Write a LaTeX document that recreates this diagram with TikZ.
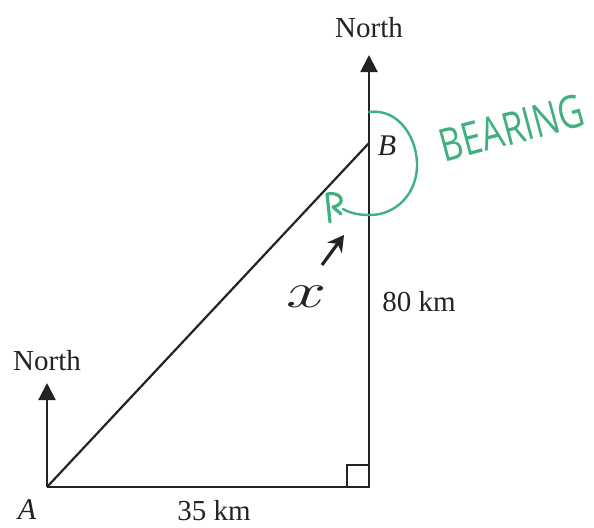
\documentclass[tikz,border=0pt]{standalone}
\usepackage{fontspec}
\setmainfont{Liberation Serif}
\newfontfamily\handfont{Open Sans}
\usetikzlibrary{arrows.meta,positioning}
\definecolor{lineink}{RGB}{35,35,35}
\definecolor{inkgreen}{RGB}{64,176,128}

\begin{document}
\begin{tikzpicture}[
x=0.5pt, y=-0.5pt,
font=\fontsize{14.5}{17}\selectfont,
edge/.style={draw=lineink, line width=1.1pt},
northarrow/.style={edge, -{Triangle[length=8.5pt,width=8.5pt]}},
lbl/.style={inner sep=0pt, text=lineink},
pen/.style={draw=inkgreen, line width=1.2pt, line cap=round, line join=round}
]
\useasboundingbox (0,0) rectangle (594,527);
% triangle corners
\coordinate (A) at (47,487);
\coordinate (C) at (369,487);
\coordinate (B) at (369,143);
\coordinate (nA) at (47,383);
\coordinate (nB) at (369,55);
% printed labels
\node[lbl] (northA) at (47,361) {North};
\node[lbl] (northB) at (369,28) {North};
\node[lbl, font=\fontsize{15}{17}\selectfont\itshape] (labA) at (27,510) {A};
\node[lbl, font=\fontsize{15}{17}\selectfont\itshape] (labB) at (387,146) {B};
\node[lbl] (dAC) at (214,511) {35 km};
\node[lbl] (dCB) at (419,302) {80 km};
% sides
\draw[edge] (A) -- (C) -- (B);
\draw[edge] (A) -- (B);
\draw[northarrow] (A) -- (nA);
\draw[northarrow] (B) -- (nB);
\draw[edge, line width=0.9pt] (C) ++(-22,0) -- ++(0,-22) -- ++(22,0);
% handwritten notes
\node[inner sep=0pt, text=inkgreen, rotate=15, font=\handfont\fontsize{17.5}{19}\selectfont] (bearing) at (512,128) {\scalebox{1}[1.3]{BEARING}};
\draw[pen] (369,112) .. controls (400,108) and (418,140) .. (417,167)
  .. controls (416,195) and (395,215) .. (370,215)
  .. controls (358,215) and (350,213) .. (343,209);
\draw[pen, line width=1.6pt] (330,222) -- (327,194) .. controls (342,191) and (347,204) .. (333,207) -- (341,214);
\coordinate (tail) at (322,265);
\coordinate (head) at (344,235);
\draw[draw=lineink, line width=1.6pt, -{Stealth[length=8pt,width=9pt]}] (tail) -- (head);
\node[inner sep=0pt, text=lineink, font=\fontsize{26}{26}\selectfont] (ang) at (307,297) {\scalebox{1.45}[1]{$x$}};
\end{tikzpicture}
\end{document}
